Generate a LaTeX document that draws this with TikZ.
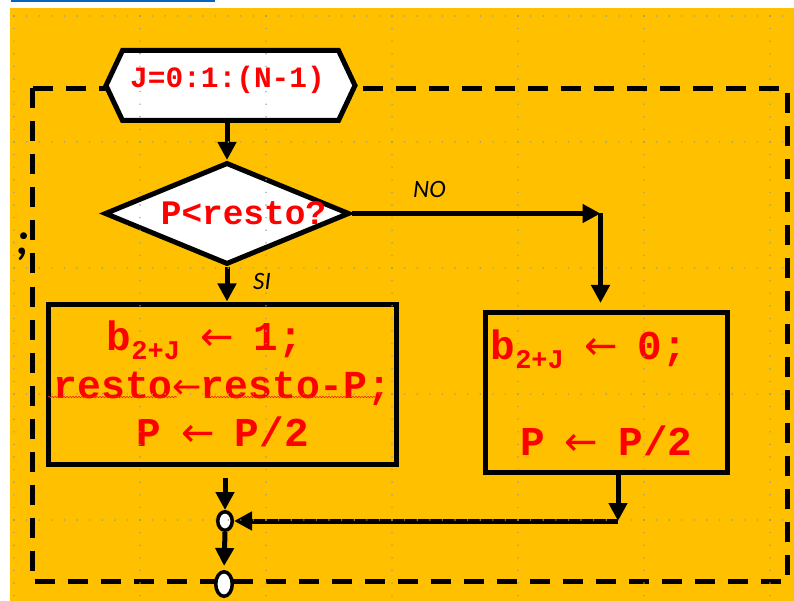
\documentclass[tikz,border=0pt]{standalone}
\usepackage{fontspec}
\usetikzlibrary{arrows.meta,shapes.geometric,decorations.pathmorphing}
\newfontfamily\codefont{Liberation Mono}
\newfontfamily\arrowfont{DejaVu Sans}
\newfontfamily\notefont{Carlito}
\definecolor{panel}{HTML}{FFC000}
\definecolor{codered}{HTML}{FF0000}
\definecolor{linkblue}{HTML}{0563C1}
\definecolor{griddot}{HTML}{9A9A8E}
% lowered index "2+J" of b
\newcommand{\bindex}{\raisebox{-9pt}{\fontsize{27}{27}\selectfont 2+J}}
% assignment arrow in a cell of given width (#1) and size (#2)
\newcommand{\assign}[2]{\makebox[#1]{\arrowfont\mdseries\fontsize{#2}{#2}\selectfont ←}}

\begin{document}
\begin{tikzpicture}[x=1pt,y=-1pt,
  arr/.style={line width=5pt,-{Triangle[length=18pt,width=18pt]}},
  codebox/.style={draw,line width=5pt,rectangle,inner sep=0pt,align=center,
    text=codered,font=\codefont\bfseries\fontsize{41}{48}\selectfont},
  decision/.style={draw,diamond,fill=white,line width=5pt,inner sep=0pt,
    text=codered,font=\codefont\bfseries\fontsize{34.4}{34.4}\selectfont},
  joint/.style={draw,ellipse,fill=white,line width=3.5pt,inner sep=0pt},
  note/.style={font=\notefont\itshape\fontsize{25}{25}\selectfont,anchor=base west,inner sep=0pt},
  loopframe/.style={line width=5pt,dash pattern=on 20pt off 13pt}
]
\useasboundingbox (0,0) rectangle (794,601);

% panel and cut-off link underline
\fill[panel] (10,8) rectangle (794,601);
\fill[linkblue] (11,0) rectangle (215,2.5);

% loop body frame
\draw[loopframe] (32,88.5) rectangle (787.5,581);

% loop header (hexagon)
\filldraw[fill=white,line width=5pt,line join=miter]
  (106,85.5) -- (122.5,50.5) -- (338.5,50.5) -- (355,85.5)
  -- (338.5,120.5) -- (122.5,120.5) -- cycle;
\node[text=codered,font=\codefont\bfseries\fontsize{29.5}{29.5}\selectfont,anchor=base,inner sep=0pt]
  (looptext) at (227.5,88) {J=0:1:(N-1)};
\coordinate (loopbottom) at (227,120.5);

% decision
\node[decision,minimum width=245pt,minimum height=102pt] (test) at (227,213.5)
  {\makebox[0pt]{\hspace*{33pt}P<resto?}};

% branch boxes
\node[codebox,minimum width=348pt,minimum height=160pt] (lbox) at (222.5,384)
  {b\bindex{} \assign{24.6pt}{40} 1;\hspace*{35pt}\\
   {\fontsize{39.7}{48}\selectfont resto\assign{28pt}{35}resto-P;}\\
   P \assign{24.6pt}{40} P/2};
\node[codebox,minimum width=242.5pt,minimum height=160pt] (rbox) at (606.3,392.5)
  {b\bindex{} \assign{24.6pt}{40} 0;\hspace*{35pt}\\[48pt]P \assign{24.6pt}{40} P/2};

% spelling underline
\draw[decorate,decoration={snake,amplitude=0.7pt,segment length=3pt},
  red!80!orange,line width=0.6pt] (48,397) -- (177,397);
\draw[decorate,decoration={snake,amplitude=0.7pt,segment length=3pt},
  red!80!orange,line width=0.6pt] (205,397) -- (375,397);

% junctions
\node[joint,minimum width=14.5pt,minimum height=18.5pt] (join) at (225,521) {};
\node[joint,minimum width=16.5pt,minimum height=24.5pt] (exit) at (224,584) {};

% connectors
\coordinate (nocorner) at (600.5,213.5);
\coordinate (lout) at (225,478);
\coordinate (retcorner) at (618,521);
\draw[arr] (loopbottom) -- (loopbottom |- test.north);
\draw[arr] (test.east) -- (nocorner);
\draw[arr,shorten >=7pt] (nocorner) -- (nocorner |- rbox.north);
\draw[arr] (test.south) -- (test.south |- lbox.north);
\draw[arr] (lout) -- (join.north);
\draw[arr] (rbox.south -| retcorner) -- (retcorner);
\draw[arr] (retcorner) -- (join.east);
\draw[arr,shorten >=4pt] (join.south) -- (exit.north);

% labels
\node[note] (nolabel) at (413,198) {NO};
\node[note] (silabel) at (253,290) {SI};
\node[font=\notefont\bfseries\itshape\fontsize{46}{46}\selectfont,anchor=base,inner sep=0pt]
  (semi) at (23,255) {;};

% dotted grid overlay
\foreach \gx in {14,140,...,770}
  \foreach \k in {0,...,46}
    \fill[griddot] (\gx,16+12.6*\k) circle (0.8);
\foreach \gy in {16,142,268,394,520}
  \foreach \k in {0,...,61}
    \fill[griddot] (14+12.6*\k,\gy) circle (0.8);
\end{tikzpicture}
\end{document}
